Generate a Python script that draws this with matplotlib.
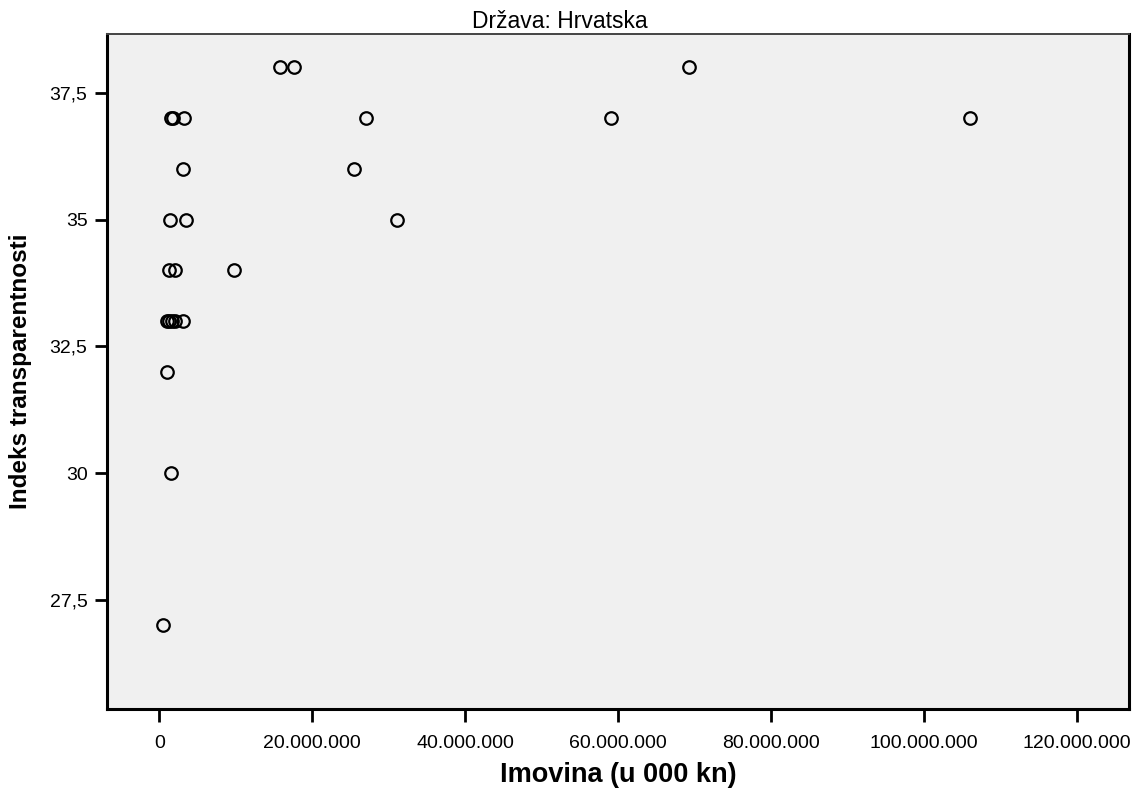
import matplotlib.pyplot as plt
from matplotlib.ticker import FuncFormatter, MultipleLocator

plt.rcParams['font.family'] = ['Liberation Sans', 'DejaVu Sans']

# Imovina (u 000 kn) i indeks transparentnosti - Hrvatska
imovina = [15.8e6, 17.6e6, 69.2e6,
           1.5e6, 1.8e6, 3.2e6, 27.0e6, 59.0e6, 106.0e6,
           3.1e6, 25.5e6,
           1.4e6, 3.5e6, 31.1e6,
           1.3e6, 2.0e6, 9.8e6,
           1.0e6, 1.3e6, 1.6e6, 2.0e6, 3.1e6,
           1.05e6,
           1.5e6,
           0.45e6]
indeks = [38, 38, 38,
          37, 37, 37, 37, 37, 37,
          36, 36,
          35, 35, 35,
          34, 34, 34,
          33, 33, 33, 33, 33,
          32,
          30,
          27]


def fmt_x(val, pos):
    return f"{int(round(val)):,}".replace(",", ".")


def fmt_y(val, pos):
    return f"{val:g}".replace(".", ",")


fig = plt.figure(figsize=(11.38, 7.96), dpi=100)
ax = fig.add_axes([107 / 1138, 1 - 709 / 796, 1022 / 1138, 675 / 796])
ax.set_facecolor('#f0f0f0')

ax.plot(imovina, indeks, linestyle='none', marker='o', markersize=9,
        markerfacecolor='none', markeredgecolor='black', markeredgewidth=1.6)

ax.set_xlim(-6.84e6, 126.8e6)
ax.set_ylim(25.35, 38.66)
ax.xaxis.set_major_locator(MultipleLocator(20e6))
ax.yaxis.set_major_locator(MultipleLocator(2.5))
ax.xaxis.set_major_formatter(FuncFormatter(fmt_x))
ax.yaxis.set_major_formatter(FuncFormatter(fmt_y))
ax.tick_params(direction='out', length=9, width=2, labelsize=14)
ax.tick_params(axis='x', pad=10)
ax.tick_params(axis='y', pad=5)

for side in ['left', 'bottom', 'right']:
    ax.spines[side].set_linewidth(2.2)
ax.spines['top'].set_linewidth(1.4)
ax.spines['top'].set_color('#444444')

# naslov je malo lijevo od sredine osi
fig.text(560 / 1138, 1 - 28 / 796, 'Država: Hrvatska', fontsize=16.5,
         ha='center', va='baseline')
ax.set_xlabel('Imovina (u 000 kn)', fontsize=19.5, fontweight='bold')
ax.set_ylabel('Indeks transparentnosti', fontsize=17.5, fontweight='bold')
ax.xaxis.set_label_coords(0.5, (709 - 762) / 675)
ax.yaxis.set_label_coords((32 - 107) / 1022, 0.5)

fig.savefig('out.png', dpi=100)
